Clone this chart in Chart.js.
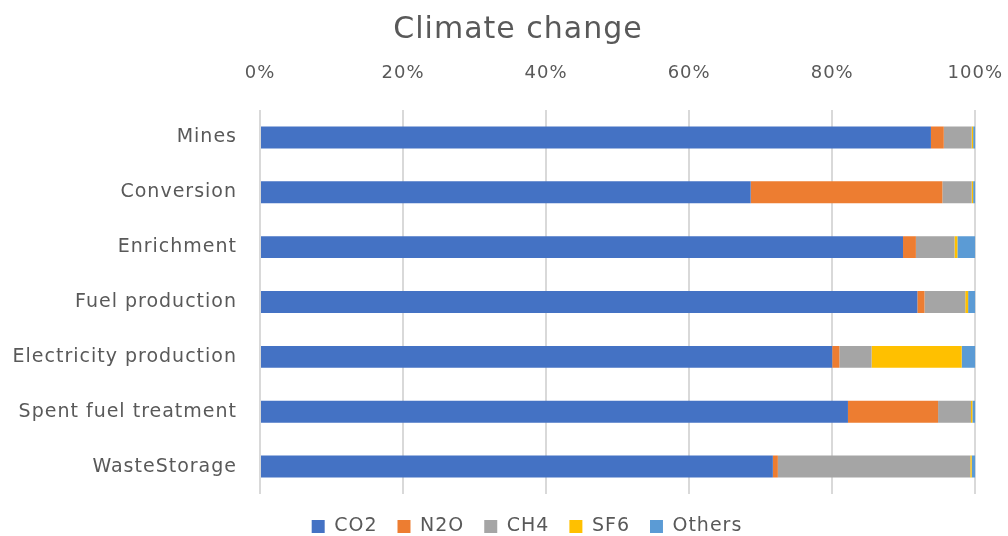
<!DOCTYPE html>
<html><head><meta charset="utf-8">
<script src="https://cdn.jsdelivr.net/npm/chart.js@4/dist/chart.umd.min.js"></script>
<style>html,body{margin:0;padding:0;background:#fff}#wrap{width:1008px;height:536px}</style>
</head><body><div id="wrap"><canvas id="c" width="1008" height="536"></canvas></div>
<script>
const categories = ["Mines","Conversion","Enrichment","Fuel production","Electricity production","Spent fuel treatment","WasteStorage"];
const co2    = [93.8, 68.6, 89.9, 91.9, 80.0, 82.2, 71.7];
const n2o    = [1.8, 26.8, 1.8, 1.0, 1.0, 12.6, 0.7];
const ch4    = [3.9, 4.1, 5.4, 5.7, 4.5, 4.6, 26.9];
const sf6    = [0.2, 0.2, 0.4, 0.4, 12.6, 0.2, 0.2];
const others = [0.3, 0.3, 2.5, 1.0, 1.9, 0.4, 0.5];
const xTicks = ["0%","20%","40%","60%","80%","100%"];

const FONT = "'DejaVu Sans', sans-serif";
const TXT = "#595959";
const mk = (label, data, color) => ({label, data, backgroundColor: color, borderWidth: 0, barPercentage: 0.8, categoryPercentage: 0.5});

const spacing = {
  id: 'spacing',
  beforeLayout(chart) { chart.ctx.letterSpacing = '1px'; },
  afterLayout(chart) {
    if (chart.titleBlock) { chart.titleBlock.left += 28; }
    if (chart.legend) { chart.legend.left += 46; chart.legend.top += 3; chart.legend.bottom += 3; }
  },
  beforeDraw(chart) { chart.ctx.letterSpacing = '1px'; }
};

new Chart(document.getElementById('c'), {
  type: 'bar',
  plugins: [spacing],
  data: {
    labels: categories,
    datasets: [
      mk("CO2", co2, "#4472C4"),
      mk("N2O", n2o, "#ED7D31"),
      mk("CH4", ch4, "#A5A5A5"),
      mk("SF6", sf6, "#FFC000"),
      mk("Others", others, "#5B9BD5")
    ]
  },
  options: {
    indexAxis: 'y',
    responsive: false,
    animation: false,
    devicePixelRatio: 1,
    layout: {padding: {left: 0, right: 0, top: 12, bottom: -7}},
    plugins: {
      title: {display: true, text: "Climate change", color: TXT, font: {family: FONT, size: 30, weight: 'normal'}, padding: {top: 0, bottom: 0}},
      legend: {position: 'bottom', labels: {color: TXT, font: {family: FONT, size: 19}, boxWidth: 13, boxHeight: 13, padding: 20}},
      tooltip: {enabled: false}
    },
    scales: {
      x: {
        position: 'top', stacked: true, min: 0, max: 100,
        ticks: {stepSize: 20, color: TXT, font: {family: FONT, size: 18}, padding: 5,
          callback: (v) => xTicks[Math.round(v/20)]},
        grid: {color: "#D9D9D9", lineWidth: 2, drawTicks: true, tickLength: 21, tickColor: 'rgba(0,0,0,0)'},
        border: {display: false},
        afterFit: (s) => { s.height = 62; }
      },
      y: {
        stacked: true,
        ticks: {color: TXT, font: {family: FONT, size: 19}, padding: 15},
        grid: {display: false},
        border: {display: false},
        afterFit: (s) => { s.width = 260; }
      }
    }
  }
});
</script></body></html>
